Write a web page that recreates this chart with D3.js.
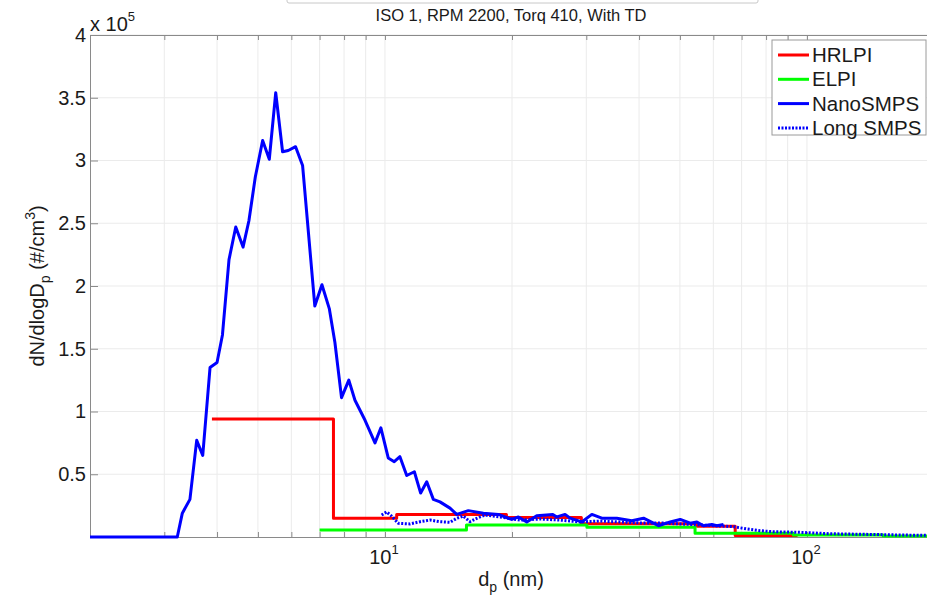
<!DOCTYPE html>
<html>
<head>
<meta charset="utf-8">
<script src="https://d3js.org/d3.v7.min.js"></script>
<style>
    body { margin: 0; background: #fff; }
    svg { display: block; font-family: Arial, "Liberation Sans", Helvetica, sans-serif; }
    .grid line { stroke: #ebebeb; stroke-width: 1; }
    .axis path, .axis line { stroke: #8a8a8a; stroke-width: 1; }
    .axis text { fill: #1a1a1a; font-size: 20px; }
</style>
</head>
<body>
<div id="chart-view"></div>
<script>
// Chart title and legend
var titleText = "ISO 1, RPM 2200, Torq 410, With TD";
var seriesNames = ["HRLPI", "ELPI", "NanoSMPS", "Long SMPS"];
var seriesColors = ["#ff0000", "#00ff00", "#0000ff", "#0000ff"];

// Axis ticks (y in units of 1e5 #/cm3, x in nm)
var yTicks = [0.5, 1, 1.5, 2, 2.5, 3, 3.5, 4];
var xLabelTicks = [10, 100];
var xAllTicks = [3, 4, 5, 6, 7, 8, 9, 10, 20, 30, 40, 50, 60, 70, 80, 90, 100, 200];

// NanoSMPS (solid blue)
var nanoDp = [2.0, 3.22, 3.31, 3.45, 3.58, 3.70, 3.85, 4.00, 4.12, 4.27, 4.43, 4.61, 4.76, 4.93, 5.13, 5.32, 5.51,
    5.72, 5.90, 6.14, 6.38, 6.82, 7.09, 7.38, 7.61, 7.89, 8.21, 8.49, 8.97, 9.47, 9.78, 10.18, 10.52, 10.85,
    11.26, 11.74, 12.15, 12.56, 13.02, 13.50, 14.26, 14.79, 15.76, 17.11, 18.57, 19.97, 20.71, 21.68, 22.89,
    24.99, 25.54, 26.72, 27.46, 29.27, 30.92, 32.65, 35.43, 38.46, 40.99, 44.47, 47.41, 50.07, 52.88, 54.85,
    56.86, 59.53, 61.17, 63.41];
var nanoConc = [0, 0, 0.19, 0.30, 0.77, 0.65, 1.35, 1.39, 1.61, 2.21, 2.47, 2.31, 2.52, 2.87, 3.16, 3.01, 3.54,
    3.07, 3.08, 3.11, 2.96, 1.84, 2.01, 1.82, 1.55, 1.11, 1.25, 1.09, 0.93, 0.75, 0.87, 0.63, 0.60, 0.64,
    0.49, 0.52, 0.35, 0.44, 0.30, 0.28, 0.23, 0.18, 0.21, 0.19, 0.18, 0.14, 0.16, 0.12, 0.17,
    0.18, 0.16, 0.18, 0.15, 0.12, 0.18, 0.15, 0.15, 0.13, 0.15, 0.09, 0.12, 0.14, 0.11, 0.12,
    0.09, 0.10, 0.09, 0.10];

// Long SMPS (dotted blue)
var longDp = [9.82, 10.09, 10.37, 10.75, 11.46, 12.11, 12.78, 13.50, 14.26, 14.79, 15.33, 15.90, 16.50, 17.26,
    18.74, 20.90, 23.31, 26.00, 29.00, 32.36, 36.09, 40.25, 44.89, 50.07, 55.85, 62.29, 66.99, 72.06, 77.47,
    83.34, 96.41, 113.6, 133.8, 166.5, 200];
var longConc = [0.175, 0.20, 0.167, 0.109, 0.104, 0.122, 0.135, 0.122, 0.117, 0.149, 0.167, 0.122, 0.149, 0.175,
    0.159, 0.135, 0.143, 0.135, 0.120, 0.127, 0.120, 0.112, 0.112, 0.104, 0.096, 0.088, 0.082, 0.064, 0.050,
    0.042, 0.037, 0.026, 0.022, 0.016, 0.012];

// HRLPI stages (red steps): bin edges and level of each bin
var hrlpiEdges = [3.89, 7.55, 10.66, 19.4, 29.2, 55, 67.6, 95];
var hrlpiConc = [0.94, 0.15, 0.18, 0.155, 0.105, 0.085, 0.012];

// ELPI stages (green steps)
var elpiEdges = [7.0, 15.6, 30.1, 54.3, 92.8, 151.7, 200];
var elpiConc = [0.056, 0.096, 0.077, 0.029, 0.016, 0.008];

class SizeDistChart {
    constructor() {
        this.width = 927;
        this.height = 599;
        // plot box (right edge runs just past the picture)
        this.left = 90;
        this.right = 934;
        this.top = 35;
        this.bottom = 537;

        this.svg = d3.select("#chart-view")
            .append("svg")
            .attr("width", this.width)
            .attr("height", this.height);

        this.x = d3.scaleLog().domain([2, 200]).range([this.left, this.right]);
        this.y = d3.scaleLinear().domain([0, 4]).range([this.bottom, this.top]);
    }

    // turn bin edges + levels into points for a step line
    stepPoints(edges, vals) {
        var pts = [];
        for (var i = 0; i < vals.length; i++) {
            pts.push([edges[i], vals[i]]);
        }
        pts.push([edges[edges.length - 1], vals[vals.length - 1]]);
        return pts;
    }

    drawFrame() {
        var self = this;

        // window shadow strip at the very top
        this.svg.append("rect")
            .attr("x", 287).attr("y", -8)
            .attr("width", 471).attr("height", 11)
            .attr("rx", 2)
            .style("fill", "#fff")
            .style("stroke", "#c8c8c8");

        // grid
        var grid = this.svg.append("g").attr("class", "grid");
        grid.selectAll(".vgrid").data(xAllTicks).enter().append("line")
            .attr("x1", function(d) { return self.x(d); })
            .attr("x2", function(d) { return self.x(d); })
            .attr("y1", this.top).attr("y2", this.bottom);
        grid.selectAll(".hgrid").data(yTicks).enter().append("line")
            .attr("y1", function(d) { return self.y(d); })
            .attr("y2", function(d) { return self.y(d); })
            .attr("x1", this.left).attr("x2", this.right);

        // y axis, ticks pointing inward
        this.svg.append("g")
            .attr("class", "axis")
            .attr("transform", "translate(" + this.left + ",0)")
            .call(d3.axisLeft(this.y).tickValues(yTicks).tickSizeInner(-8).tickSizeOuter(0)
                .tickPadding(4).tickFormat(function(d) { return d; }));

        // bottom + top x axes (labels added by hand for the powers of ten)
        this.svg.append("g")
            .attr("class", "axis")
            .attr("transform", "translate(0," + this.bottom + ")")
            .call(d3.axisBottom(this.x).tickValues(xAllTicks).tickSizeInner(-5).tickSizeOuter(0).tickFormat(""));
        this.svg.append("g")
            .attr("class", "axis")
            .attr("transform", "translate(0," + this.top + ")")
            .call(d3.axisTop(this.x).tickValues(xAllTicks).tickSizeInner(-5).tickSizeOuter(0).tickFormat(""));

        var xl = this.svg.append("g").selectAll("text").data(xLabelTicks).enter().append("text")
            .attr("x", function(d) { return self.x(d) - 1; })
            .attr("y", 564)
            .attr("text-anchor", "middle")
            .style("font-size", "20px")
            .style("fill", "#1a1a1a");
        xl.append("tspan").text("10");
        xl.append("tspan").attr("dy", -10).style("font-size", "13px")
            .text(function(d) { return Math.round(Math.log10(d)); });

        // exponent note above the y axis
        var ex = this.svg.append("text")
            .attr("x", 90).attr("y", 31)
            .style("font-size", "20px").style("fill", "#1a1a1a");
        ex.append("tspan").text("x 10");
        ex.append("tspan").attr("dy", -10).style("font-size", "13px").text("5");

        // title
        this.svg.append("text")
            .attr("x", 511).attr("y", 21)
            .attr("text-anchor", "middle")
            .style("font-size", "16.5px").style("fill", "#1a1a1a")
            .text(titleText);

        // axis labels
        var yl = this.svg.append("text")
            .attr("transform", "translate(44,286) rotate(-90)")
            .attr("text-anchor", "middle")
            .style("font-size", "20px").style("fill", "#1a1a1a");
        yl.append("tspan").text("dN/dlogD");
        yl.append("tspan").attr("dy", 6).style("font-size", "14px").text("p");
        yl.append("tspan").attr("dy", -6).text(" (#/cm");
        yl.append("tspan").attr("dy", -9).style("font-size", "14px").text("3");
        yl.append("tspan").attr("dy", 9).text(")");

        var xt = this.svg.append("text")
            .attr("x", 511).attr("y", 586)
            .attr("text-anchor", "middle")
            .style("font-size", "20px").style("fill", "#1a1a1a");
        xt.append("tspan").text("d");
        xt.append("tspan").attr("dy", 6).style("font-size", "14px").text("p");
        xt.append("tspan").attr("dy", -6).text(" (nm)");
    }

    drawLines() {
        var self = this;
        var line = d3.line()
            .x(function(d) { return self.x(d[0]); })
            .y(function(d) { return self.y(d[1]); });
        var stepLine = d3.line()
            .curve(d3.curveStepAfter)
            .x(function(d) { return self.x(d[0]); })
            .y(function(d) { return self.y(d[1]); });

        var series = [
            { pts: this.stepPoints(hrlpiEdges, hrlpiConc), gen: stepLine, color: seriesColors[0], dash: null },
            { pts: this.stepPoints(elpiEdges, elpiConc), gen: stepLine, color: seriesColors[1], dash: null },
            { pts: d3.zip(nanoDp, nanoConc), gen: line, color: seriesColors[2], dash: null },
            { pts: d3.zip(longDp, longConc), gen: line, color: seriesColors[3], dash: "2,1.6" }
        ];

        this.svg.append("g").selectAll("path").data(series).enter().append("path")
            .attr("d", function(d) { return d.gen(d.pts); })
            .style("fill", "none")
            .style("stroke", function(d) { return d.color; })
            .style("stroke-width", function(d) { return d.dash ? 3 : 3; })
            .style("stroke-dasharray", function(d) { return d.dash; })
            .style("stroke-linejoin", "round");
    }

    drawLegend() {
        var lg = this.svg.append("g").attr("transform", "translate(772,40)");
        lg.append("rect")
            .attr("width", 154).attr("height", 95)
            .style("fill", "#fff").style("stroke", "#9a9a9a");

        var rows = lg.selectAll(".row").data(seriesNames).enter().append("g")
            .attr("transform", function(d, i) { return "translate(0," + (15 + i * 24.3) + ")"; });
        rows.append("line")
            .attr("x1", 6).attr("x2", 37)
            .style("stroke", function(d, i) { return seriesColors[i]; })
            .style("stroke-width", 3)
            .style("stroke-dasharray", function(d, i) { return i == 3 ? "2,1.5" : null; });
        rows.append("text")
            .attr("x", 40).attr("dy", ".35em")
            .style("font-size", "20.5px").style("fill", "#1a1a1a")
            .text(function(d) { return d; });
    }
}

var chart = new SizeDistChart();
chart.drawFrame();
chart.drawLines();
chart.drawLegend();
</script>
</body>
</html>
